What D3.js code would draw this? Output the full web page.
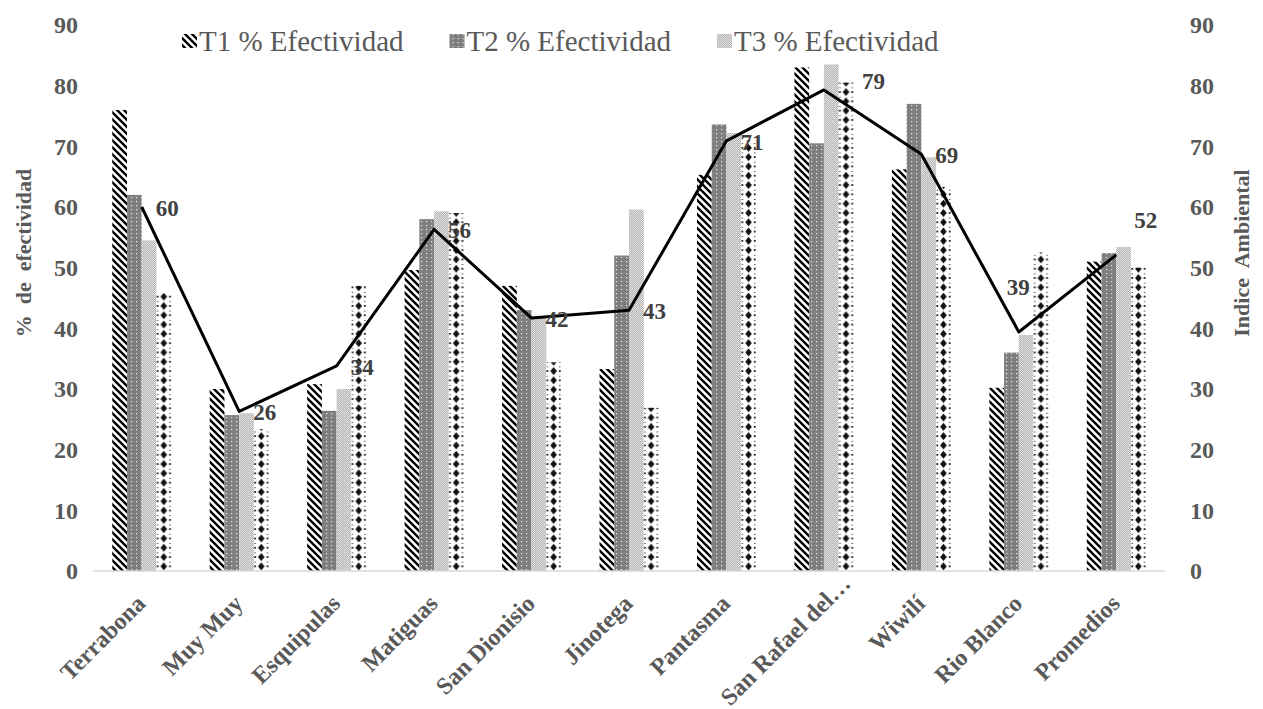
<!DOCTYPE html>
<html lang="es">
<head>
<meta charset="utf-8">
<title>% de efectividad e Indice Ambiental</title>
<script src="https://d3js.org/d3.v7.min.js"></script>
<style>
  body { margin: 0; background: #fff; }
  svg text { font-family: "Liberation Serif", "Times New Roman", serif; }
  .tick-lbl { font-size: 24px; font-weight: bold; fill: #595959; }
  .cat-lbl { font-size: 24px; font-weight: bold; fill: #595959; }
  .ax-title { font-size: 22px; font-weight: bold; fill: #595959; white-space: pre; }
  .leg-lbl { font-size: 29px; fill: #595959; }
  .val-lbl { font-size: 23px; font-weight: bold; fill: #404040; }
</style>
</head>
<body>
<div id="chart"></div>
<script>
"use strict"
// datos
var categorias = ["Terrabona", "Muy Muy", "Esquipulas", "Matiguas", "San Dionisio", "Jinotega",
                  "Pantasma", "San Rafael del\u2026", "Wiwilí", "Rio Blanco", "Promedios"];
var t1 = [76, 30, 30.8, 49.6, 47, 33.3, 65.3, 83, 66.2, 30.2, 51];
var t2 = [62, 25.7, 26.4, 58, 43, 52, 73.6, 70.5, 77, 36, 52.4];
var t3 = [54.5, 26, 30, 59.3, 42, 59.6, 72.2, 83.5, 68.2, 38.9, 53.4];
var t4 = [45.8, 23.4, 47, 59, 34.4, 26.9, 71, 80.5, 63.3, 52.5, 50];
var indice = [60, 26.3, 33.8, 56.3, 41.7, 43, 70.9, 79.3, 68.7, 39.4, 52.1];
var series = ["T1 % Efectividad", "T2 % Efectividad", "T3 % Efectividad", "T4 % Efectividad"];
var ticks = [0, 10, 20, 30, 40, 50, 60, 70, 80, 90];

var width = 1263, height = 709;
var margin = {top: 25, right: 98, bottom: 138, left: 93};

var svg = d3.select("#chart").append("svg")
    .attr("width", width)
    .attr("height", height);

var x = d3.scaleBand()
    .domain(categorias)
    .range([margin.left, width - margin.right])
    .paddingInner(0).paddingOuter(0);

var grupo = x.bandwidth() * 0.605;
var anchoBarra = grupo / 4;
function barX(i, s) { return x(categorias[i]) + (x.bandwidth() - grupo) / 2 + s * anchoBarra; }

var y = d3.scaleLinear().domain([0, 90]).range([height - margin.bottom, margin.top]);

// patrones de relleno
var defs = svg.append("defs");

var p1 = defs.append("pattern").attr("id", "pat1")
    .attr("patternUnits", "userSpaceOnUse").attr("width", 7).attr("height", 7);
p1.append("rect").attr("width", 7).attr("height", 7).attr("fill", "#fff");
p1.append("path").attr("d", "M0,0L7,7M-1,6L1,8M6,-1L8,1")
    .attr("stroke", "#000").attr("stroke-width", 2.4);

var p2 = defs.append("pattern").attr("id", "pat2")
    .attr("patternUnits", "userSpaceOnUse").attr("width", 5).attr("height", 4);
p2.append("rect").attr("width", 5).attr("height", 4).attr("fill", "#7f7f7f");
p2.append("rect").attr("x", 1).attr("y", 1).attr("width", 1.2).attr("height", 1.2).attr("fill", "#e8e8e8");

var p3 = defs.append("pattern").attr("id", "pat3")
    .attr("patternUnits", "userSpaceOnUse").attr("width", 2).attr("height", 2);
p3.append("rect").attr("width", 2).attr("height", 2).attr("fill", "#b4b4b4");
p3.append("rect").attr("width", 1).attr("height", 1).attr("fill", "#e6e6e6");
p3.append("rect").attr("x", 1).attr("y", 1).attr("width", 1).attr("height", 1).attr("fill", "#dcdcdc");

// un patron de diamantes por barra, centrado en la barra
var p4 = defs.selectAll("pattern.p4")
    .data(categorias)
    .enter().append("pattern")
      .attr("class", "p4")
      .attr("id", function(d, i) { return "pat4_" + i; })
      .attr("patternUnits", "userSpaceOnUse")
      .attr("x", function(d, i) { return barX(i, 3); })
      .attr("y", y(0))
      .attr("width", anchoBarra)
      .attr("height", 9.3);
p4.append("rect").attr("width", anchoBarra).attr("height", 9.3).attr("fill", "#fff");
p4.append("path")
    .attr("d", function() {
      var c = anchoBarra / 2, m = 4.65;
      return "M" + c + "," + (m - 4) + "L" + (c + 3.3) + "," + m + "L" + c + "," + (m + 4) + "L" + (c - 3.3) + "," + m + "Z";
    })
    .attr("fill", "#111");
p4.append("path")
    .attr("d", function() {
      var w = anchoBarra, m = 4.65;
      return "M0.3," + (m - 1) + "h1.8v2h-1.8Z" +
             "M" + (w - 2.1) + "," + (m - 1) + "h1.8v2h-1.8Z" +
             "M0.6,0h1.2v1h-1.2Z M" + (w - 1.8) + ",0h1.2v1h-1.2Z";
    })
    .attr("fill", "#222");

var valores = [t1, t2, t3, t4];
var rellenos = [
  function() { return "url(#pat1)"; },
  function() { return "url(#pat2)"; },
  function() { return "url(#pat3)"; },
  function(i) { return "url(#pat4_" + i + ")"; }
];

// barras
valores.forEach(function(serie, s) {
  svg.append("g").selectAll("rect")
    .data(serie)
    .enter().append("rect")
      .attr("x", function(d, i) { return barX(i, s); })
      .attr("y", function(d) { return y(d); })
      .attr("width", anchoBarra)
      .attr("height", function(d) { return y(0) - y(d); })
      .attr("fill", function(d, i) { return rellenos[s](i); });
});

// linea base
svg.append("line")
    .attr("x1", margin.left).attr("x2", width - margin.right)
    .attr("y1", y(0)).attr("y2", y(0))
    .attr("stroke", "#d9d9d9").attr("stroke-width", 1.3);

// ejes
svg.selectAll("text.izq")
    .data(ticks)
    .enter().append("text")
      .attr("class", "tick-lbl")
      .attr("x", 78)
      .attr("y", function(d) { return y(d); })
      .attr("dy", "0.35em")
      .attr("text-anchor", "end")
      .text(function(d) { return d; });

svg.selectAll("text.der")
    .data(ticks)
    .enter().append("text")
      .attr("class", "tick-lbl")
      .attr("x", 1190)
      .attr("y", function(d) { return y(d); })
      .attr("dy", "0.35em")
      .attr("text-anchor", "start")
      .text(function(d) { return d; });

// la etiqueta truncada queda algo desplazada en el original
var corrCat = {7: [23, -20]};
svg.selectAll("text.cat")
    .data(categorias)
    .enter().append("text")
      .attr("class", "cat-lbl")
      .attr("text-anchor", "end")
      .attr("transform", function(d, i) {
        var c = corrCat[i] || [0, 0];
        return "translate(" + (x(d) + x.bandwidth() / 2 + 5 + c[0]) + "," + (y(0) + 34 + c[1]) + ") rotate(-45)";
      })
      .text(function(d) { return d; });

svg.append("text")
    .attr("class", "ax-title")
    .attr("text-anchor", "middle")
    .attr("transform", "translate(31,253) rotate(-90)")
    .text("%  de  efectividad");

svg.append("text")
    .attr("class", "ax-title")
    .attr("text-anchor", "middle")
    .attr("transform", "translate(1249,253) rotate(-90)")
    .text("Indice  Ambiental");

// linea del indice ambiental
var linea = d3.line()
    .x(function(d, i) { return x(categorias[i]) + x.bandwidth() / 2; })
    .y(function(d) { return y(d); });

svg.append("path")
    .datum(indice)
    .attr("d", linea)
    .attr("fill", "none")
    .attr("stroke", "#000")
    .attr("stroke-width", 3)
    .attr("stroke-linejoin", "round");

// etiquetas: a la derecha salvo algunas movidas a mano
var ajuste = {7: [38, -9], 9: [-12, -45], 10: [18, -35]};
svg.selectAll("text.val")
    .data(indice)
    .enter().append("text")
      .attr("class", "val-lbl")
      .attr("x", function(d, i) { return x(categorias[i]) + x.bandwidth() / 2 + (ajuste[i] ? ajuste[i][0] : 14); })
      .attr("y", function(d, i) { return y(d) + (ajuste[i] ? ajuste[i][1] : 1); })
      .attr("dy", "0.35em")
      .text(function(d) { return Math.round(d); });

// leyenda (solo tres entradas visibles)
var leyenda = svg.append("g").selectAll("g")
    .data(series.slice(0, 3))
    .enter().append("g")
      .attr("transform", function(d, i) { return "translate(" + (199 + i * 267.5) + ",41)"; });

leyenda.append("rect")
    .attr("x", -17).attr("y", -7)
    .attr("width", 15).attr("height", 14)
    .attr("fill", function(d, i) { return rellenos[i](0); });

leyenda.append("text")
    .attr("class", "leg-lbl")
    .attr("x", 0)
    .attr("dy", "0.35em")
    .text(function(d) { return d; });
</script>
</body>
</html>
